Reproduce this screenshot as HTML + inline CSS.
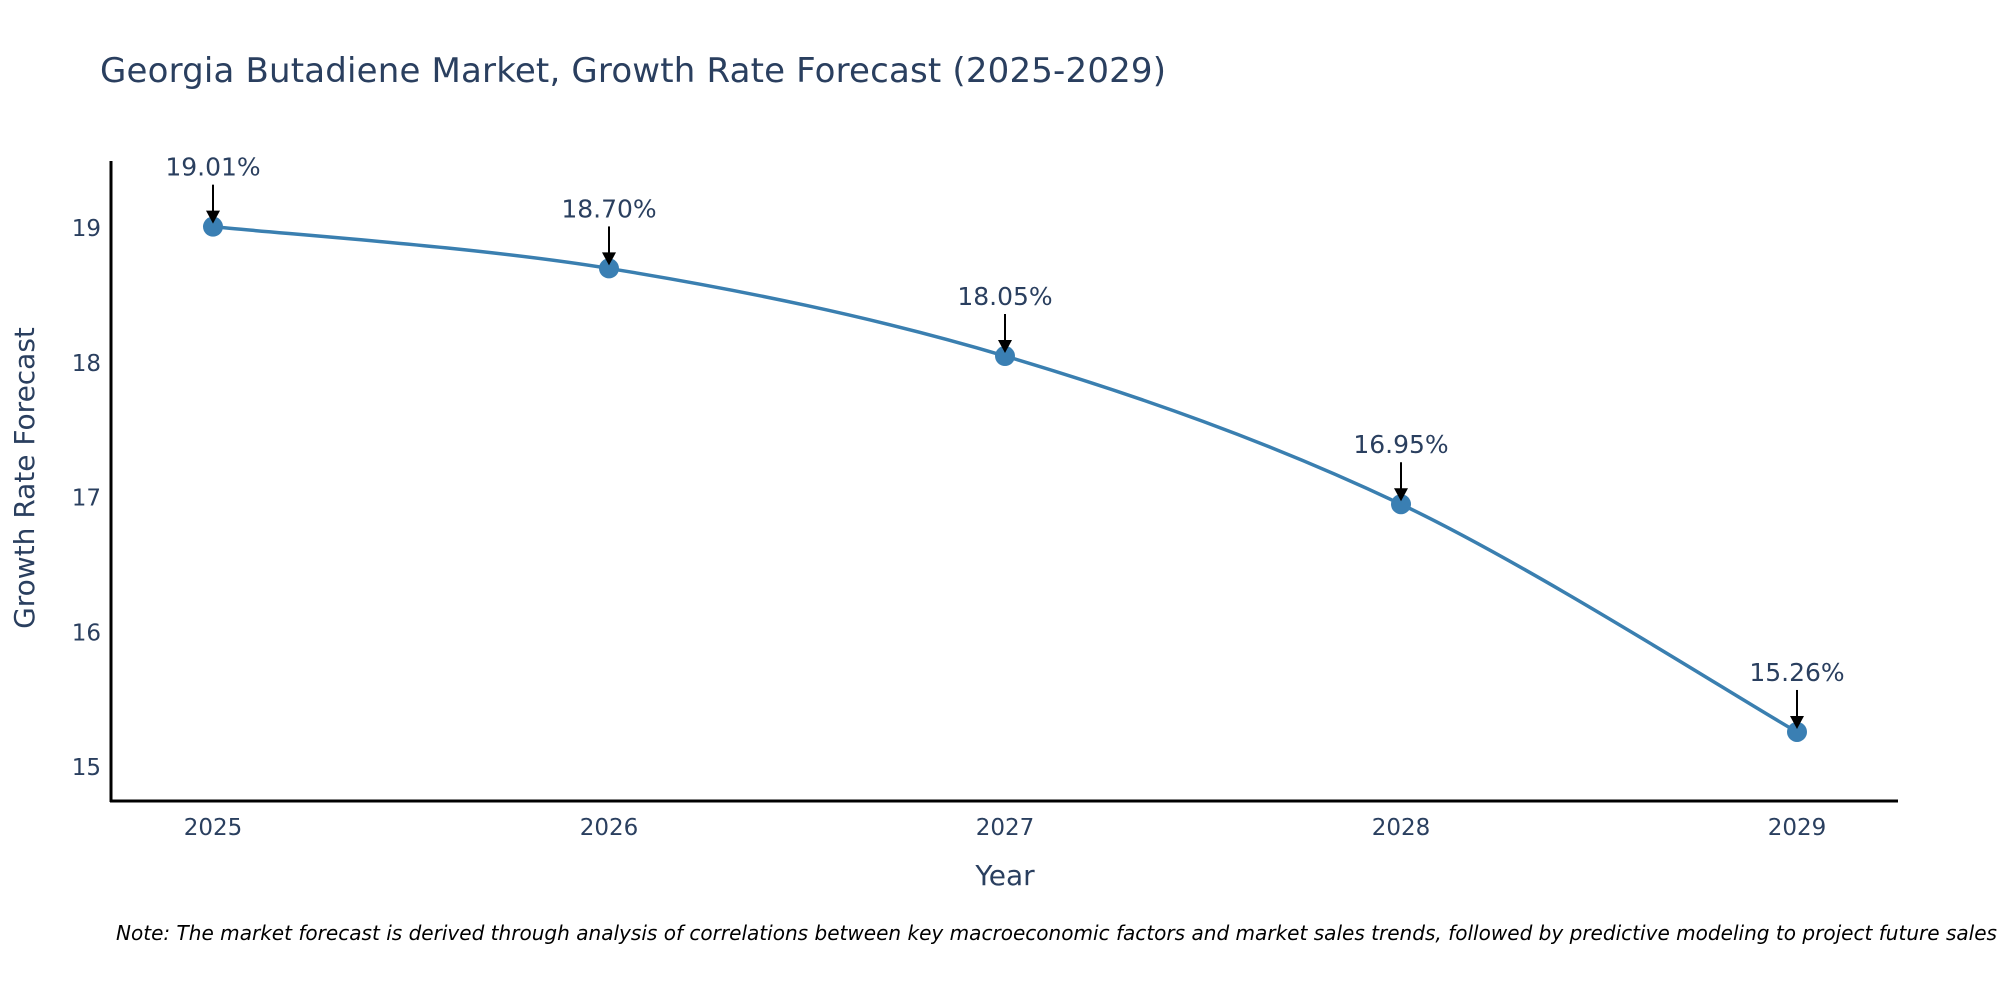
<!DOCTYPE html>
<html><head><meta charset="utf-8"><style>
body{margin:0;background:#fff;}
svg{display:block;font-family:"DejaVu Sans","Liberation Sans",sans-serif;}
</style></head><body>
<svg id="chart" width="2000" height="1000" viewBox="0 0 2000 1000">
<text x="100" y="82" font-size="34" fill="#2a3f5f" textLength="1066">Georgia Butadiene Market, Growth Rate Forecast (2025-2029)</text>
<g id="yticks"></g>
<g id="xticks"></g>
<line x1="111" y1="161" x2="111" y2="802" stroke="#000" stroke-width="3"/>
<line x1="110" y1="801" x2="1898" y2="801" stroke="#000" stroke-width="3"/>
<path id="line" fill="none" stroke="#3a7fb0" stroke-width="3.5"/>
<g id="points"></g>
<g id="annos"></g>
<text x="1005" y="885" font-size="28" fill="#2a3f5f" text-anchor="middle">Year</text>
<text transform="translate(34,478) rotate(-90)" font-size="28" fill="#2a3f5f" text-anchor="middle">Growth Rate Forecast</text>
<text x="116" y="940" font-size="20" font-style="italic" fill="#000" textLength="1881" lengthAdjust="spacingAndGlyphs">Note: The market forecast is derived through analysis of correlations between key macroeconomic factors and market sales trends, followed by predictive modeling to project future sales</text>
</svg>
<script>
const years=[2025,2026,2027,2028,2029];
const values=[19.01,18.70,18.05,16.95,15.26];
const labels=["19.01%","18.70%","18.05%","16.95%","15.26%"];
const yTicks=[15,16,17,18,19];
const NS="http://www.w3.org/2000/svg";
function xs(i){return 213+(1797-213)*i/(years.length-1);}
function ys(v){return 228+(19-v)*134.75;}
function mk(tag,attrs,parent){const e=document.createElementNS(NS,tag);for(const k in attrs)e.setAttribute(k,attrs[k]);parent.appendChild(e);return e;}
const yt=document.getElementById('yticks');
yTicks.forEach(t=>{const e=mk('text',{x:101,y:ys(t)+8,'font-size':23,fill:'#2a3f5f','text-anchor':'end'},yt);e.textContent=t;

});
const xt=document.getElementById('xticks');
years.forEach((y,i)=>{const e=mk('text',{x:xs(i),y:835,'font-size':23,fill:'#2a3f5f','text-anchor':'middle'},xt);e.textContent=y;

});
const P=values.map((v,i)=>[xs(i),ys(v)]);
let d=`M${P[0][0]},${P[0][1]}`;
for(let i=0;i<P.length-1;i++){const p0=P[Math.max(i-1,0)],p1=P[i],p2=P[i+1],p3=P[Math.min(i+2,P.length-1)];const s=1/6;
d+=` C${p1[0]+(p2[0]-p0[0])*s},${p1[1]+(p2[1]-p0[1])*s} ${p2[0]-(p3[0]-p1[0])*s},${p2[1]-(p3[1]-p1[1])*s} ${p2[0]},${p2[1]}`;}
document.getElementById('line').setAttribute('d',d);
const pg=document.getElementById('points'),ag=document.getElementById('annos');
P.forEach((p,i)=>{const c=mk('circle',{cx:p[0],cy:p[1],r:10,fill:'#3a7fb3'},pg);


const l=mk('line',{x1:p[0],y1:p[1]-42,x2:p[0],y2:p[1]-14,stroke:'#000','stroke-width':2},ag);


const h=mk('polygon',{points:`${p[0]-7},${p[1]-16} ${p[0]+7},${p[1]-16} ${p[0]},${p[1]-3}`,fill:'#000'},ag);


const t=mk('text',{x:p[0],y:p[1]-51,'font-size':25,fill:'#2a3f5f','text-anchor':'middle'},ag);t.textContent=labels[i];

});
</script>
</body></html>
